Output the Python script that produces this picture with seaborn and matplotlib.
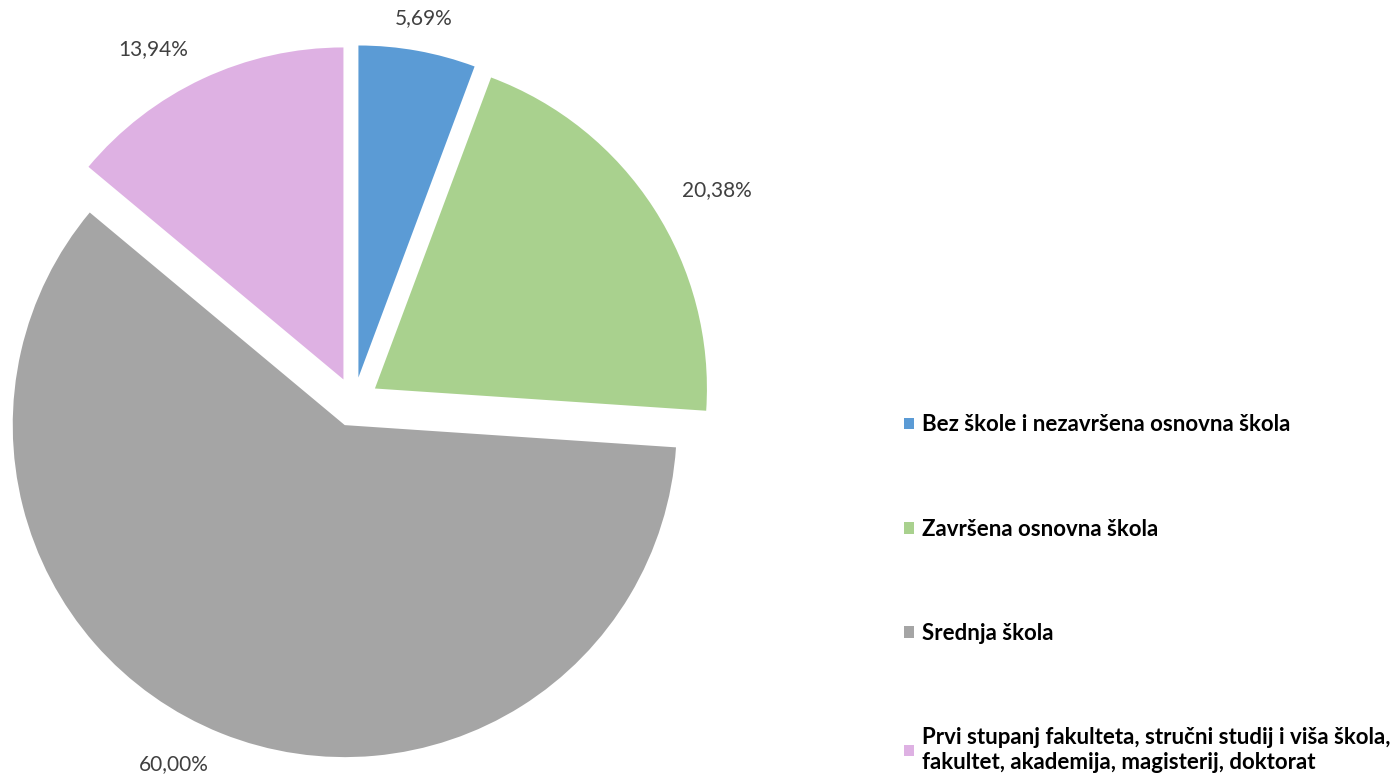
import matplotlib
matplotlib.use("Agg")
import matplotlib.pyplot as plt
import seaborn as sns

# data
categories = [
    "Bez škole i nezavršena osnovna škola",
    "Završena osnovna škola",
    "Srednja škola",
    "Prvi stupanj fakulteta, stručni studij i viša škola,\nfakultet, akademija, magisterij, doktorat",
]
shares = [5.69, 20.38, 60.00, 13.94]
colors = ["#5B9BD5", "#A9D18E", "#A5A5A5", "#DEB1E3"]

sns.set_theme(style="white")
plt.rcParams["font.family"] = ["Lato", "DejaVu Sans"]

fig = plt.figure(figsize=(14, 7.78), dpi=100)
# axes covering the left part so the pie sits where it does in the original
ax = fig.add_axes([0, 0, 800 / 1400, 1])

pct_labels = [f"{v:.2f}%".replace(".", ",") for v in shares]
wedges, texts = ax.pie(
    shares,
    colors=colors,
    startangle=90,
    counterclock=False,
    explode=[0.075] * len(shares),
    labels=pct_labels,
    labeldistance=1.1,
    textprops=dict(va="center", fontsize=15, color="#404040"),
    wedgeprops=dict(linewidth=0),
)
# labels near the top are centred, the others hang outward (like Excel)
for t in texts:
    if abs(t.get_position()[0]) < 0.3:
        t.set_ha("center")

ax.set_xlim(-354 / 332, (800 - 354) / 332)
ax.set_ylim(-376 / 332, (778 - 376) / 332)
ax.set_aspect("equal")
ax.axis("off")

leg = fig.legend(
    wedges,
    categories,
    loc="center left",
    bbox_to_anchor=(0.646, 0.237),
    frameon=False,
    handlelength=0.42,
    handleheight=0.42,
    handletextpad=0.36,
    labelspacing=3.75,
    borderpad=0,
    borderaxespad=0,
    prop=dict(size=16, weight="bold"),
)
for t in leg.get_texts():
    t.set_color("black")

fig.savefig("out.png", dpi=100)
